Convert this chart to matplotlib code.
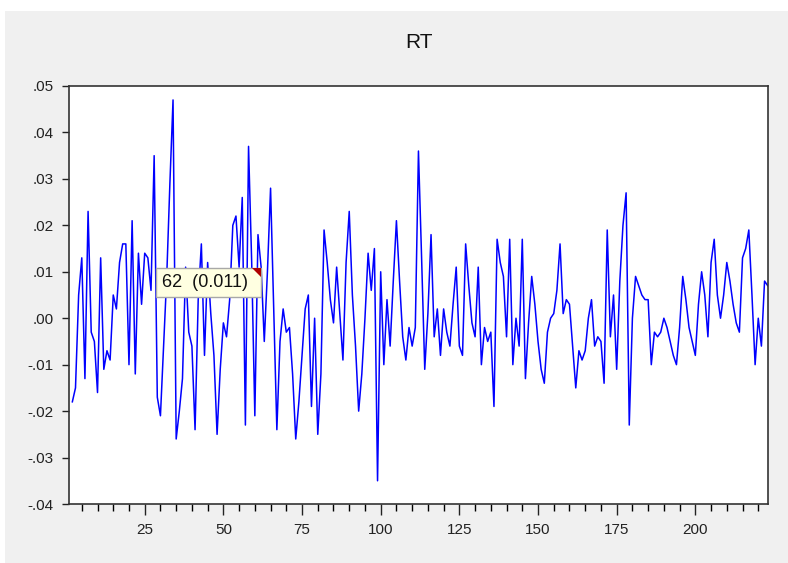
import numpy as np
import matplotlib
matplotlib.use("Agg")
import matplotlib.pyplot as plt
from matplotlib.patches import Rectangle, Polygon

# ---- data (values in units of 0.001) ----
obs_start = 2
rt_milli = [
    -18, -15, 5, 13, -13, 23, -3, -5, -16, 13,
    -11, -7, -9, 5, 2, 12, 16, 16, -10, 21,
    -12, 14, 3, 14, 13, 6, 35, -17, -21, -6,
    9, 29, 47, -26, -20, -13, 11, -3, -6, -24,
    4, 16, -8, 12, 1, -8, -25, -11, -1, -4,
    4, 20, 22, 11, 26, -23, 37, 12, -21, 18,
    11, -5, 10, 28, 2, -24, -5, 2, -3, -2,
    -12, -26, -18, -8, 2, 5, -19, 0, -25, -12,
    19, 12, 4, -1, 11, 1, -9, 12, 23, 5,
    -6, -20, -12, 0, 14, 6, 15, -35, 10, -10,
    4, -6, 8, 21, 8, -4, -9, -2, -6, -2,
    36, 13, -11, 1, 18, -4, 2, -8, 2, -3,
    -6, 3, 11, -6, -8, 16, 7, -1, -4, 11,
    -10, -2, -5, -3, -19, 17, 12, 9, -4, 17,
    -10, 0, -6, 17, -13, -1, 9, 3, -5, -11,
    -14, -3, 0, 1, 6, 16, 1, 4, 3, -6,
    -15, -7, -9, -7, 0, 4, -6, -4, -5, -14,
    19, -4, 5, -11, 8, 20, 27, -23, 0, 9,
    7, 5, 4, 4, -10, -3, -4, -3, 0, -2,
    -5, -8, -10, -2, 9, 4, -2, -5, -8, 3,
    10, 5, -4, 12, 17, 5, 0, 5, 12, 8,
    3, -1, -3, 13, 15, 19, 5, -10, 0, -6,
    8, 7,
]
rt = np.array(rt_milli) / 1000.0
obs = np.arange(obs_start, obs_start + len(rt))

y_ticks = [0.05, 0.04, 0.03, 0.02, 0.01, 0.0, -0.01, -0.02, -0.03, -0.04]
y_labels = [".05", ".04", ".03", ".02", ".01", ".00", "-.01", "-.02", "-.03", "-.04"]
x_major = [25, 50, 75, 100, 125, 150, 175, 200]
x_minor = list(range(5, 225, 5))
title = "RT"
tip_obs = 62
tip_text = "62  (0.011)"

W, H = 788, 563
fig = plt.figure(figsize=(W / 100, H / 100), dpi=100)
fig.patch.set_facecolor("white")
plt.rcParams["font.family"] = ["Liberation Sans", "DejaVu Sans"]

# grey panel background
fig.add_artist(Rectangle((5 / W, 0), 1 - 5 / W, 1 - 11 / H, transform=fig.transFigure,
                         facecolor="#f0f0f0", edgecolor="none", zorder=-10))

left, right, top, bottom = 69.2, 767.7, 86, 504
ax = fig.add_axes([left / W, 1 - bottom / H, (right - left) / W, (bottom - top) / H])
ax.set_facecolor("white")
ax.plot(obs, rt, color="#0000ff", lw=1.1)

ax.set_xlim(1, 223)
ax.set_ylim(-0.04, 0.05)
ax.set_yticks(y_ticks)
ax.set_yticklabels(y_labels)
ax.set_xticks(x_major)
ax.set_xticklabels([str(v) for v in x_major])
ax.set_xticks([v for v in x_minor if v not in x_major], minor=True)

ax.tick_params(axis="y", direction="out", length=5, width=1, pad=6, labelsize=11,
               colors="#222222", left=True, right=False)
ax.tick_params(axis="x", which="major", direction="out", length=8, width=1, pad=6,
               labelsize=11, colors="#222222")
ax.tick_params(axis="x", which="minor", direction="out", length=5, width=1)
for s in ax.spines.values():
    s.set_color("#333333")
    s.set_linewidth(1.2)

fig.text(419 / W, 1 - 43 / H, title, ha="center", va="center", fontsize=15, color="#111111")

# tooltip
bx0, bx1, by0, by1 = 156, 261, 268, 297
fig.add_artist(Rectangle((bx0 / W, 1 - by1 / H), (bx1 - bx0) / W, (by1 - by0) / H,
                         transform=fig.transFigure, facecolor="#ffffe1",
                         edgecolor="#a8a8a8", lw=1, zorder=10))
fig.add_artist(Polygon([(252 / W, 1 - 268 / H), (261 / W, 1 - 268 / H), (261 / W, 1 - 277 / H)],
                       closed=True, transform=fig.transFigure, facecolor="#b00000",
                       edgecolor="none", zorder=11))
fig.text(162 / W, 1 - 283 / H, tip_text, ha="left", va="center", fontsize=13,
         color="#111111", zorder=12)

fig.savefig("out.png", dpi=100)
